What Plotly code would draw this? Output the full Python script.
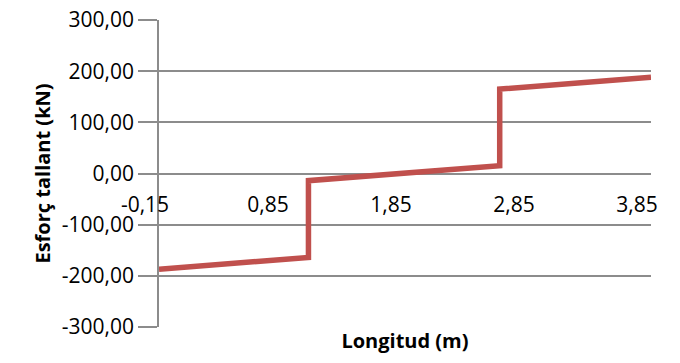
import plotly.graph_objects as go

# Data (shear force diagram)
longitud = [-0.15, 1.065, 1.065, 2.62, 2.62, 3.85]
esforc = [-187, -164, -14, 15, 165, 188]

x_ticks = [-0.15, 0.85, 1.85, 2.85, 3.85]
x_ticktext = ["-0,15", "0,85", "1,85", "2,85", "3,85"]
y_ticks = [-300, -200, -100, 0, 100, 200, 300]
y_ticktext = ["-300,00", "-200,00", "-100,00", "0,00", "100,00", "200,00", "300,00"]

FONT = "Open Sans"
GRID = "#8c8c8c"

fig = go.Figure()
fig.add_trace(go.Scatter(
    x=longitud, y=esforc, mode="lines",
    line=dict(color="#c0504d", width=5.5),
    showlegend=False,
))

fig.update_layout(
    width=680, height=363,
    margin=dict(l=159, r=29, t=20, b=36),
    paper_bgcolor="white", plot_bgcolor="white",
    font=dict(family=FONT, size=21, color="#000000"),
    xaxis=dict(
        range=[-0.15, 3.85], showgrid=False, zeroline=False,
        showticklabels=False, ticks="", showline=False,
        title=dict(text="<b>Longitud (m)</b>", font=dict(size=20), standoff=6),
        automargin=False,
    ),
    xaxis2=dict(
        range=[-0.15, 3.85], overlaying="x", anchor="free", position=0.5,
        side="bottom", showgrid=False, zeroline=False, showline=False,
        ticks="", tickvals=x_ticks, ticktext=x_ticktext,
        ticklabelstandoff=16, ticklabelshift=-14,
        tickfont=dict(size=21), automargin=False,
    ),
    yaxis=dict(
        range=[-300, 300], tickvals=y_ticks, ticktext=y_ticktext,
        showgrid=True, gridcolor=GRID, gridwidth=1.5,
        zeroline=False, showline=True, linecolor=GRID, linewidth=1.5,
        ticks="outside", ticklen=19, tickcolor=GRID, tickwidth=1.5,
        title=dict(text="<b>Esforç tallant (kN)</b>", font=dict(size=20), standoff=6),
        automargin=False,
    ),
)
# dummy trace on xaxis2 so it renders
fig.add_trace(go.Scatter(x=[None], y=[None], xaxis="x2", showlegend=False, hoverinfo="skip"))

fig.write_html("out.html")
